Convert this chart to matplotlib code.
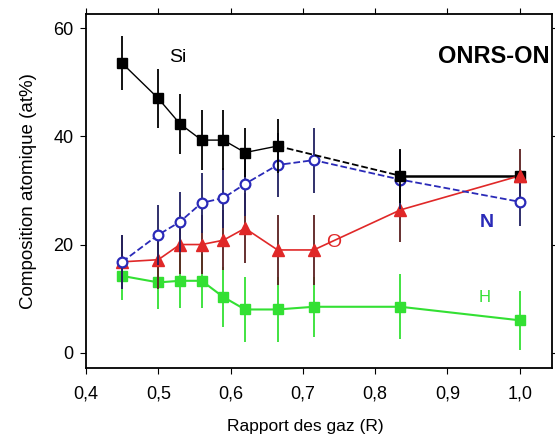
import matplotlib
matplotlib.use("Agg")
import matplotlib.pyplot as plt
from matplotlib.ticker import FuncFormatter

plt.rcParams['font.family'] = ['Liberation Sans', 'DejaVu Sans']

# gas ratio R
ratio = [0.45, 0.50, 0.53, 0.56, 0.59, 0.62, 0.665, 0.715, 0.835, 1.0]

# Si (no point read at 0.715)
si_x = [0.45, 0.50, 0.53, 0.56, 0.59, 0.62, 0.665, 0.835, 1.0]
si_y = [53.5, 47.0, 42.3, 39.3, 39.3, 37.0, 38.2, 32.7, 32.7]
si_err = [5.0, 5.5, 5.5, 5.5, 5.5, 4.5, 5.0, 5.0, 0.0]

n_y = [16.8, 21.8, 24.2, 27.7, 28.6, 31.2, 34.7, 35.6, 32.0, 27.9]
n_err = [5.0, 5.5, 5.5, 5.5, 5.5, 6.0, 6.0, 6.0, 5.5, 4.5]

o_y = [16.8, 17.2, 20.0, 20.0, 20.8, 23.0, 19.0, 19.0, 26.4, 32.7]
o_err = [5.0, 5.5, 5.5, 5.5, 5.5, 6.5, 6.5, 6.5, 6.0, 5.0]

h_y = [14.2, 13.0, 13.3, 13.3, 10.3, 8.0, 8.0, 8.5, 8.5, 6.0]
h_err = [4.5, 5.0, 5.0, 5.0, 5.5, 6.0, 6.0, 5.5, 6.0, 5.5]

x_ticks = [0.4, 0.5, 0.6, 0.7, 0.8, 0.9, 1.0]
y_ticks = [0, 20, 40, 60]

blue = '#2a2ab8'
red = '#e02828'
green = '#33e033'

fig = plt.figure(figsize=(5.55, 4.38), dpi=100)
ax = fig.add_axes([0.155, 0.16, 0.84, 0.808])

# H
ax.errorbar(ratio, h_y, yerr=h_err, color=green, ecolor=green, elinewidth=1.3,
            marker='s', markersize=7, lw=1.5, capsize=0, zorder=2)
# O
ax.errorbar(ratio, o_y, yerr=o_err, color=red, ecolor='#5a2020', elinewidth=1.3,
            marker='^', markersize=8, lw=1.2, capsize=0, zorder=3)
# N
ax.errorbar(ratio, n_y, yerr=n_err, color=blue, ecolor='#202060', elinewidth=1.3,
            marker='o', markersize=7, mfc='white', mec=blue, mew=1.6,
            lw=1.3, ls='--', capsize=0, zorder=4)
# Si: solid except dashed 0.665 -> 0.835
ax.errorbar(si_x, si_y, yerr=si_err, color='black', ecolor='black', elinewidth=1.3,
            marker='s', markersize=7.5, lw=0, capsize=0, zorder=5)
ax.plot(si_x[:7], si_y[:7], color='black', lw=1.0, zorder=5)
ax.plot(si_x[6:8], si_y[6:8], color='black', lw=1.3, ls='--', zorder=5)
ax.plot(si_x[7:], si_y[7:], color='black', lw=1.8, zorder=1)
# red marker on top at 1.0
ax.plot(ratio[-1:], o_y[-1:], marker='^', color=red, markersize=8, zorder=6)

ax.text(0.527, 54.6, 'Si', fontsize=14, ha='center', va='center')
ax.text(0.742, 20.4, 'O', color=red, fontsize=14, ha='center', va='center')
ax.text(0.955, 24.0, 'N', color=blue, fontsize=14, fontweight='bold', ha='center', va='center')
ax.text(0.952, 10.2, 'H', color=green, fontsize=12, ha='center', va='center')
ax.text(1.042, 54.8, 'ONRS-ON', fontsize=17, fontweight='bold', ha='right', va='center')

ax.set_xlim(0.4, 1.045)
ax.set_ylim(-2.8, 62.6)
ax.set_xticks(x_ticks)
ax.set_yticks(y_ticks)
ax.xaxis.set_major_formatter(FuncFormatter(lambda v, p: f"{v:.1f}".replace('.', ',')))
ax.tick_params(direction='out', length=4, labelsize=13, top=True, right=True)
ax.tick_params(axis='x', pad=9)
ax.tick_params(axis='y', pad=5)
ax.set_xlabel('Rapport des gaz (R)', fontsize=12.5)
ax.set_ylabel('Composition atomique (at%)', fontsize=13.5)
ax.xaxis.set_label_coords(0.47, -0.143)
ax.yaxis.set_label_coords(-0.105, 0.5)
for s in ax.spines.values():
    s.set_linewidth(1.3)

fig.savefig('out.png', dpi=100)
